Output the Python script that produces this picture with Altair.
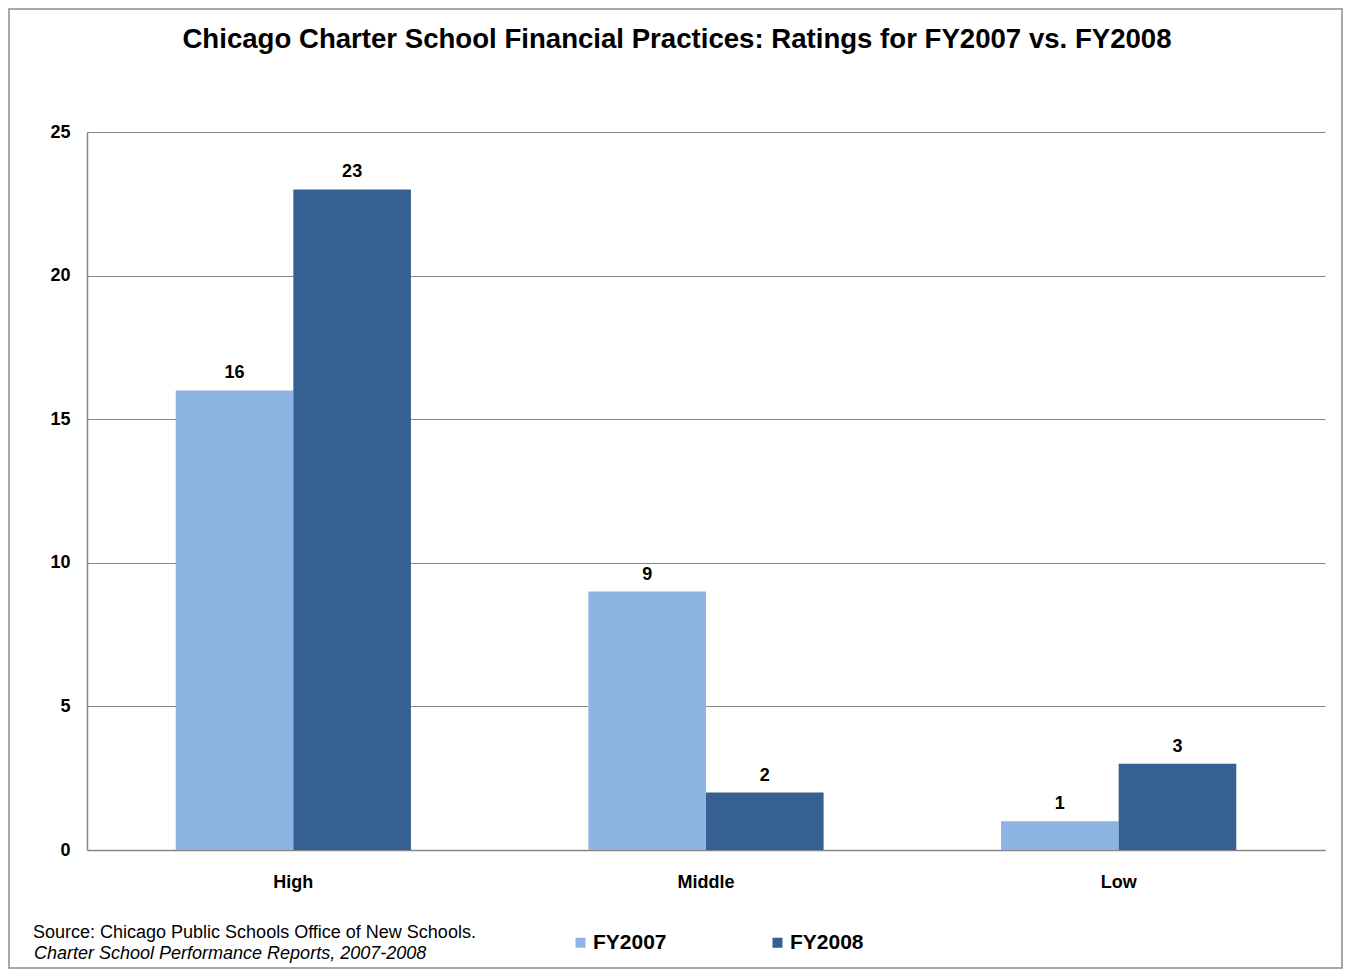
import altair as alt
import pandas as pd

categories = ["High", "Middle", "Low"]
series = ["FY2007", "FY2008"]
fy2007 = [16, 9, 1]
fy2008 = [23, 2, 3]
colors = ["#8EB4E3", "#376092"]
y_ticks = [0, 5, 10, 15, 20, 25]
title_text = "Chicago Charter School Financial Practices: Ratings for FY2007 vs. FY2008"
source_lines = ["Source: Chicago Public Schools  Office of New Schools.",
                "Charter School Performance Reports, 2007-2008"]

rows = []
for c, a, b in zip(categories, fy2007, fy2008):
    rows.append({"cat": c, "series": "FY2007", "value": a})
    rows.append({"cat": c, "series": "FY2008", "value": b})
df = pd.DataFrame(rows)

FONT = "Liberation Sans"
W, H = 1238, 718
PL, PT = 79, 124
TOTAL_W, TOTAL_H = 1335, 961

y_scale = alt.Scale(domain=[0, 25], nice=False, zero=True)
x_enc = alt.X("cat:N", sort=categories,
              scale=alt.Scale(paddingInner=0.43, paddingOuter=0.215),
              axis=alt.Axis(title=None, labelAngle=0, labelFont=FONT, labelFontSize=18,
                            labelFontWeight="bold", labelColor="#000", labelPadding=23,
                            ticks=False, domainColor="#868686", domainWidth=1.5))
y_enc = alt.Y("value:Q", scale=y_scale,
              axis=alt.Axis(title=None, values=y_ticks, labelFont=FONT, labelFontSize=18,
                            labelFontWeight="bold", labelColor="#000", labelPadding=17,
                            ticks=False, domainColor="#868686", domainWidth=1.5,
                            gridColor="#868686", gridWidth=1.2))
xoff = alt.XOffset("series:N", sort=series, scale=alt.Scale(paddingInner=0, paddingOuter=0))

bars = alt.Chart(df).mark_bar().encode(
    x=x_enc, y=y_enc, xOffset=xoff,
    color=alt.Color("series:N", sort=series,
                    scale=alt.Scale(domain=series, range=colors),
                    legend=alt.Legend(title=None, orient="none", legendX=483, legendY=800,
                                      direction="horizontal", symbolType="square",
                                      symbolSize=100, symbolStrokeWidth=0, symbolOffset=0,
                                      labelFont=FONT, labelFontSize=21, labelFontWeight="bold",
                                      labelColor="#000", labelOffset=2, columnPadding=100)),
)

labels = alt.Chart(df).mark_text(font=FONT, fontSize=18, fontWeight="bold", color="#000",
                                 baseline="bottom", dy=-8).encode(
    x=alt.X("cat:N", sort=categories),
    y=alt.Y("value:Q", scale=y_scale), xOffset=xoff, text="value:Q")

title_df = pd.DataFrame({"t": [title_text]})
title = alt.Chart(title_df).mark_text(font=FONT, fontSize=27.6, fontWeight="bold", color="#000",
                                      align="center", baseline="alphabetic").encode(
    x=alt.value(669 - PL), y=alt.value(40 - PT), text="t:N")

src_df = pd.DataFrame({"line": source_lines, "idx": [0, 1]})
src1 = alt.Chart(src_df.iloc[[0]]).mark_text(font=FONT, fontSize=18, color="#000",
                                             align="left", baseline="alphabetic").encode(
    x=alt.value(25 - PL), y=alt.value(930 - PT), text="line:N")
src2 = alt.Chart(src_df.iloc[[1]]).mark_text(font=FONT, fontSize=18, color="#000",
                                             fontStyle="italic", align="left",
                                             baseline="alphabetic").encode(
    x=alt.value(26 - PL), y=alt.value(951 - PT), text="line:N")

frame_df = pd.DataFrame({"f": [1]})
frame = alt.Chart(frame_df).mark_rect(fillOpacity=0, stroke="#8c8c8c", strokeWidth=1.5).encode(
    x=alt.value(-PL + 1), x2=alt.value(TOTAL_W - PL - 1),
    y=alt.value(-PT + 1), y2=alt.value(TOTAL_H - PT - 1))

chart = alt.layer(frame, bars, labels, title, src1, src2).properties(
    width=W, height=H,
    background="white",
    autosize=alt.AutoSizeParams(type="none"),
    padding={"left": PL, "top": PT, "right": TOTAL_W - PL - W, "bottom": TOTAL_H - PT - H},
).configure_view(strokeWidth=0)

chart.save("out.html", embed_options={"renderer": "svg", "actions": False})
